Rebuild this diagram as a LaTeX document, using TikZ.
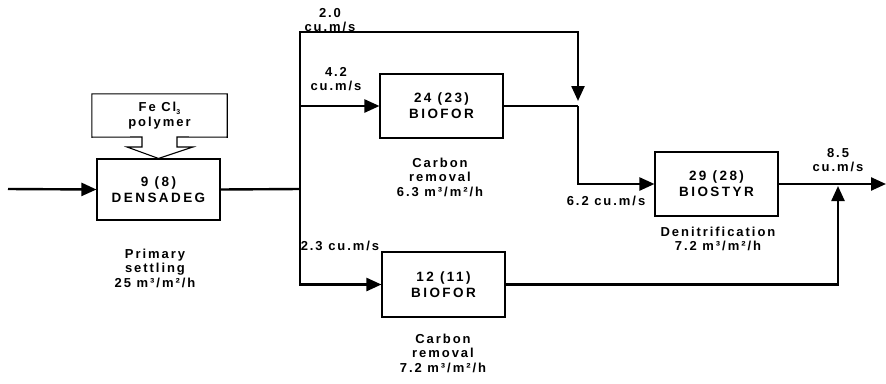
\documentclass[tikz,border=0pt]{standalone}
\usepackage{fontspec}
\setmainfont[LetterSpace=15,BoldFont={Liberation Sans Bold}]{Liberation Sans}
\newfontfamily\boxfont[LetterSpace=18,BoldFont={Liberation Sans Bold}]{Liberation Sans}
\usetikzlibrary{arrows.meta}

\begin{document}
\begin{tikzpicture}[
    x=1pt, y=-1pt,
    font=\fontsize{13}{14.5}\selectfont\bfseries,
    unit/.style={
        rectangle,
        draw=black,
        line width=1.1pt,
        minimum width=123pt,
        minimum height=64pt,
        align=center,
        inner sep=0pt,
        font=\boxfont\fontsize{13.5}{16}\selectfont\bfseries
    },
    flow/.style={line width=2.4pt},
    tip/.style={-{Triangle[length=15pt,width=13pt]}},
    lbl/.style={align=center, inner sep=0pt}
]
\useasboundingbox (0,0) rectangle (886,383);

% Dosing
\node[lbl, minimum width=135pt, minimum height=43pt] (dose) at (159.5,115.5) {Fe Cl\raisebox{-3pt}{\scriptsize 3}\\polymer};

% Primary settling
\node[unit, minimum height=61pt] (dens) at (158.5,189.5) {9 (8)\\DENSADEG};
\node[lbl] (denslbl) at (155,268) {Primary\\settling\\25 m³/m²/h};

% Carbon removal, upper line
\node[unit] (bf1) at (441.5,106) {24 (23)\\BIOFOR};
\node[lbl] (bf1lbl) at (440,177) {Carbon\\removal\\6.3 m³/m²/h};

% Carbon removal, lower line
\node[unit, minimum height=65pt] (bf2) at (443.5,284.5) {12 (11)\\BIOFOR};
\node[lbl] (bf2lbl) at (443,353) {Carbon\\removal\\7.2 m³/m²/h};

% Denitrification
\node[unit] (bst) at (716.5,184) {29 (28)\\BIOSTYR};
\node[lbl] (bstlbl) at (718,239) {Denitrification\\7.2 m³/m²/h};

% Dosing box with its block arrow
\draw[line width=1.1pt] (dose.south west) -- (dose.north west) -- (dose.north east)
    -- (dose.south east) -- (177,137) -- (177,147) -- (193,147) -- (dens.north)
    -- (127,147) -- (142,147) -- (142,137) -- cycle;

% Flow lines
\coordinate (feed) at (8,189);
\coordinate (split) at (300,189);
\coordinate (mix1) at (578,106);
\coordinate (mix2) at (838,184);
\coordinate (outlet) at (886,184);

\draw[flow, tip] (feed) -- (dens.west);
\draw[flow] (dens.east) -- (split);
\draw[flow, tip, shorten >=5pt] (split) -- (300,32) -| (mix1);
\draw[flow, tip] (split) |- (bf1.west);
\draw[flow, tip] (split) |- (bf2.west);
\draw[flow] (bf1.east) -- (mix1);
\draw[flow, tip] (mix1) |- (bst.west);
\draw[flow, tip] (bst.east) -- (outlet);
\draw[flow, tip, shorten >=2pt] (bf2.east) -| (mix2);

% Flow rates
\node[lbl] (q1) at (330,20) {2.0\\cu.m/s};
\node[lbl] (q2) at (336,79) {4.2\\cu.m/s};
\node[lbl] (q3) at (340,246) {2.3 cu.m/s};
\node[lbl] (q4) at (606,201) {6.2 cu.m/s};
\node[lbl] (q5) at (838,160) {8.5\\cu.m/s};

\end{tikzpicture}
\end{document}
